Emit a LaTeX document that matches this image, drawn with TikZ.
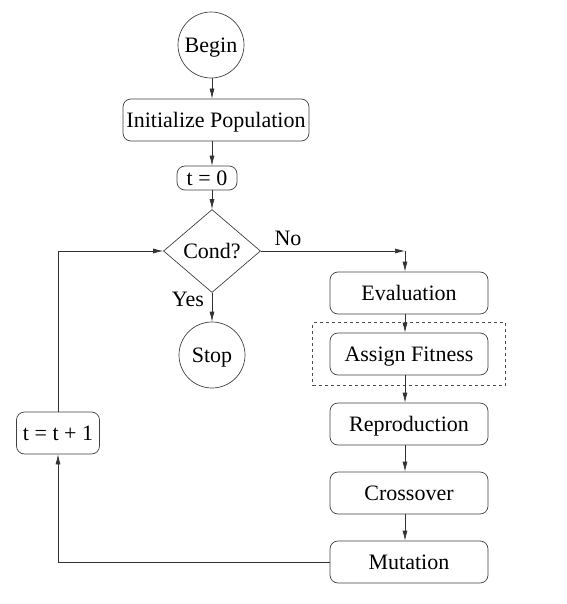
\documentclass[tikz,border=0pt]{standalone}
\usepackage{fontspec}
\setmainfont{Liberation Serif}
\newfontfamily\diagfont{Liberation Serif}
\usetikzlibrary{shapes.geometric,arrows.meta,calc,fit}
\begin{document}
\begin{tikzpicture}[x=1pt,y=-1pt,
  lbl/.style={font=\diagfont\fontsize{22}{24}\selectfont, text height=15pt, text depth=0.4pt},
  box/.style={draw=black!75, rounded corners=8pt, line width=0.7pt, minimum height=42pt, minimum width=158pt, inner sep=0pt, lbl},
  circ/.style={draw=black!75, circle, minimum size=66pt, inner sep=0pt, line width=0.7pt, lbl},
  arr/.style={-{Latex[length=10pt,width=5pt]}, draw=black!80, line width=0.7pt},
  ln/.style={draw=black!80, line width=0.7pt}
]
\useasboundingbox (0,0) rectangle (566,604);
\coordinate (cC) at (212,0);
\node[circ] (begin) at (211,45) {Begin};
\node[box, minimum width=186pt] (init) at (216,120) {Initialize Population};
\node[box, minimum width=60pt, minimum height=24pt] (t0) at (207,178) {t = 0};
\node[diamond, draw=black!75, line width=0.7pt, aspect=1.17, minimum width=97pt, minimum height=83pt, inner sep=0pt, lbl] (cond) at (212,251) {Cond?};
\node[circ] (stop) at (212,355) {Stop};
\node[box] (eval) at (409,293) {Evaluation};
\node[box] (af) at (409,354) {Assign Fitness};
\node[draw=black!70, dashed, line width=0.7pt, fit=(af), inner xsep=17pt, inner ysep=10pt] (grp) {};
\node[box] (rep) at (409,424) {Reproduction};
\node[box] (cro) at (409,493) {Crossover};
\node[box] (mut) at (409,562) {Mutation};
\node[box, minimum width=83pt] (tinc) at (58,433) {t = t + 1};
\coordinate (cR) at (405,251);
\coordinate (cL) at (58,251);
\coordinate (cM) at (58,562);
\node[lbl] (no) at (288,238) {No};
\node[lbl] (yes) at (188,299) {Yes};
% main column
\draw[arr] (cC |- begin.south) -- (cC |- init.north);
\draw[arr] (cC |- init.south) -- (cC |- t0.north);
\draw[arr] (cC |- t0.south) -- (cond.north);
\draw[arr] (cond.south) -- (stop.north);
% right column
\draw[arr] (cond.east) -- (cR);
\draw[arr] (cR) -- (cR |- eval.north);
\draw[arr] (cR |- eval.south) -- (cR |- af.north);
\draw[arr] (cR |- af.south) -- (cR |- rep.north);
\draw[arr] (cR |- rep.south) -- (cR |- cro.north);
\draw[arr] (cR |- cro.south) -- (cR |- mut.north);
% loop back
\draw[ln] (mut.west) -- (cM);
\draw[arr] (cM) -- (tinc.south);
\draw[ln] (tinc.north) -- (cL);
\draw[arr] (cL) -- (cond.west);
\end{tikzpicture}
\end{document}
